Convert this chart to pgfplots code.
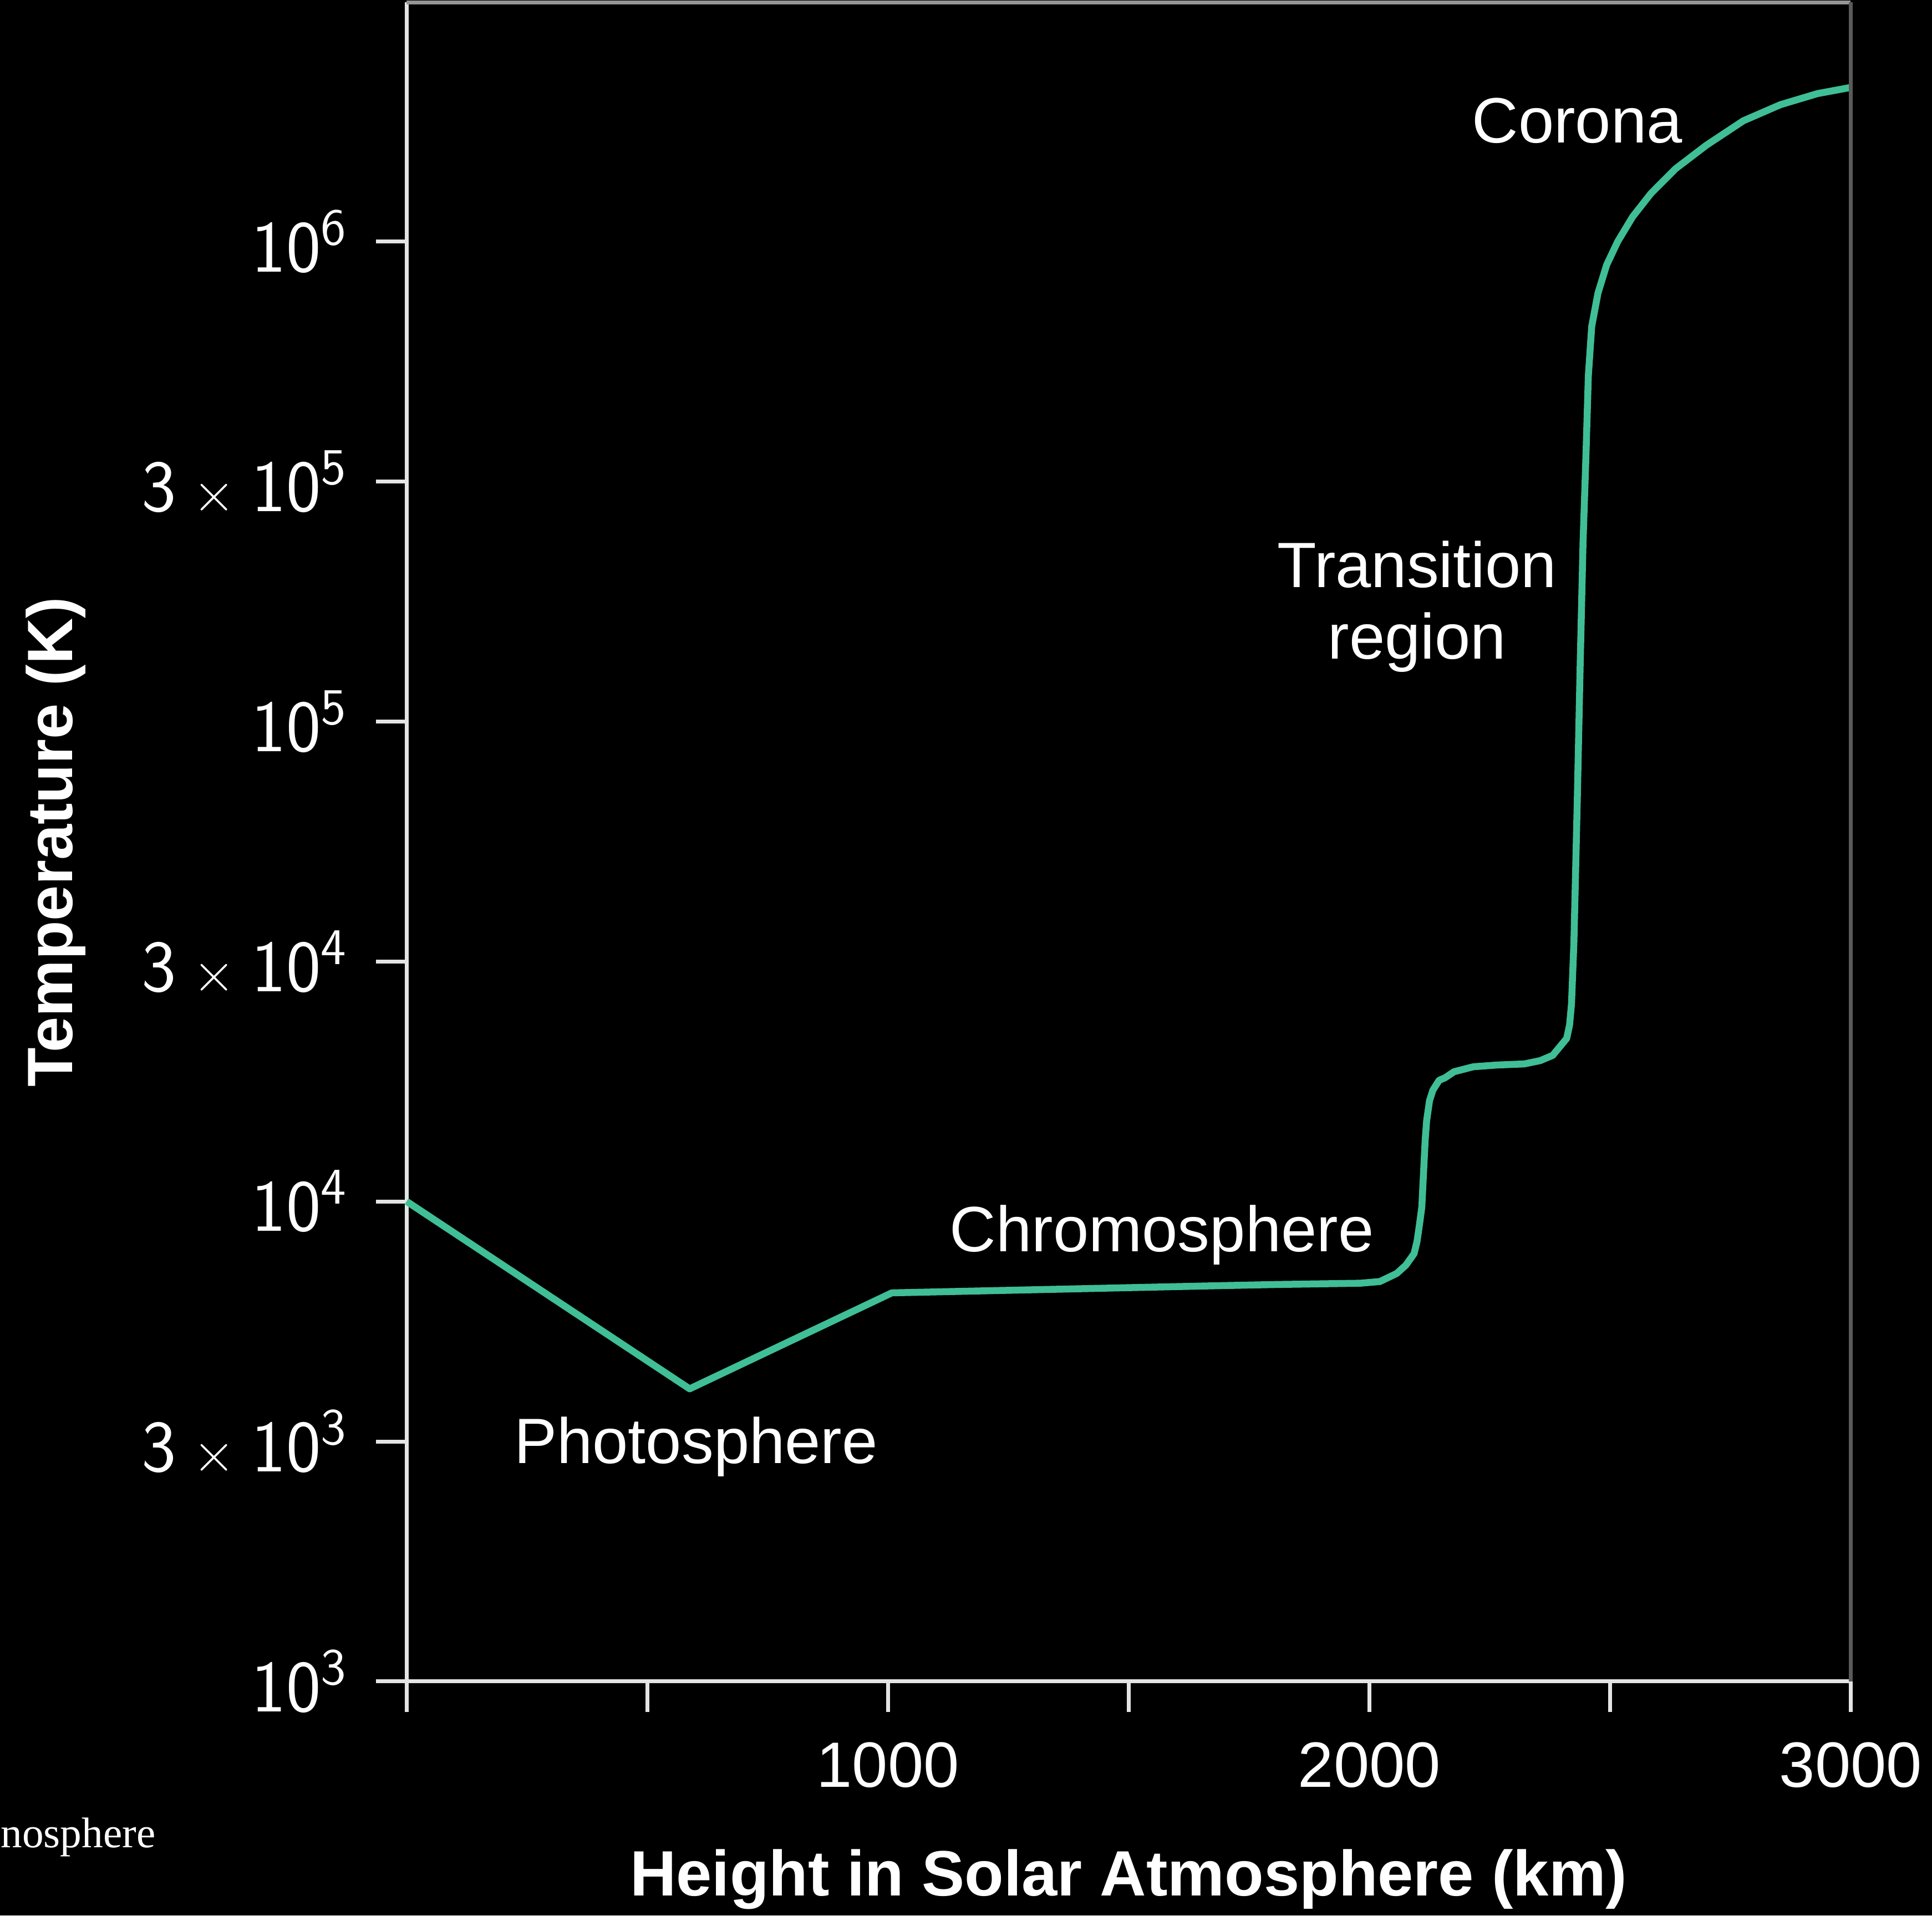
\documentclass[border=0pt]{standalone}
\usepackage{pgfplots}
\pgfplotsset{compat=1.18}
\usepackage{fontspec}
\setmainfont{Liberation Sans}
\newfontfamily\serifcap{Liberation Serif}
\definecolor{curve}{RGB}{64,190,150}
\definecolor{axwhite}{RGB}{228,228,228}
\definecolor{axgray}{RGB}{150,150,150}
\definecolor{axdim}{RGB}{90,90,90}
\newcommand{\tms}{\hspace{0.22em}{\fontsize{13}{15}\selectfont ×}\hspace{0.22em}}
\begin{document}
\begin{tikzpicture}
\fill[black] (0,0) rectangle (15.68,15.55);
\useasboundingbox (0,0) rectangle (15.68,15.55);
\begin{axis}[
  at={(3.30cm,1.90cm)}, anchor=south west,
  scale only axis, width=11.72cm, height=13.63cm,
  xmin=0, xmax=3000, ymin=1000, ymax=3.145e6,
  ymode=log, yminorticks=false, xminorticks=false,
  axis lines=left, axis line style={-, draw=axwhite, line width=0.9pt},
  tick align=outside, major tick length=0.25cm,
  tick style={draw=axwhite, line width=0.9pt},
  xtick={0,500,1000,1500,2000,2500,3000},
  xticklabels={,,1000,,2000,,3000},
  ytick={1000,3162.28,10000,31622.8,100000,316228,1000000},
  yticklabels={
    {10\textsuperscript{3}},
    {3\tms 10\textsuperscript{3}},
    {10\textsuperscript{4}},
    {3\tms 10\textsuperscript{4}},
    {10\textsuperscript{5}},
    {3\tms 10\textsuperscript{5}},
    {10\textsuperscript{6}}},
  xticklabel style={font=\fontsize{14.8}{17}\selectfont, text=white, yshift=-0.12cm},
  yticklabel style={font=\fontsize{17}{20}\selectfont\sffamily, text=white, xshift=-0.10cm},
  xlabel={Height in Solar Atmosphere (km)},
  ylabel={Temperature (K)},
  label style={font=\fontsize{14.8}{17}\selectfont\bfseries, text=white},
  xlabel style={at={(axis description cs:0.5,-0.1277)}, anchor=base},
  ylabel style={at={(axis description cs:-0.243,0.5)}, anchor=center},
  clip=false,
]
\addplot[curve, line width=1.6pt, line join=round] coordinates {
  (0,10000) (588,4070) (1008,6450) (1689,6676) (1805,6713) (1981,6755)
  (2022,6810) (2057,7080) (2076,7368) (2093,7787) (2099,8247) (2104,8922)
  (2109,9727) (2116,13410) (2119,14710) (2125,16210) (2132,17050)
  (2145,17880) (2157,18090) (2176,18630) (2216,19080) (2265,19240)
  (2322,19340) (2355,19650) (2381,20150) (2393,20840) (2410,21850)
  (2416,23320) (2420,25790) (2425,34650) (2432,68300) (2438,130900)
  (2444,236300) (2450,357500) (2455,525000) (2462,665000) (2475,780000)
  (2493,893000) (2516,999000) (2547,1125000) (2585,1258000) (2636,1416000)
  (2700,1585000) (2777,1783000) (2854,1926000) (2931,2031000) (3000,2092000)
};
\draw[axgray, line width=0.9pt] (rel axis cs:0,1) -- (rel axis cs:1,1);
\draw[axdim, line width=0.9pt] (rel axis cs:1,1) -- (rel axis cs:1,0);
\node[anchor=base, text=white, font=\fontsize{14.8}{17}\selectfont] at (axis cs:2432,1.603e6) {Corona};
\node[anchor=base, text=white, font=\fontsize{14.8}{17}\selectfont] at (axis cs:2099,1.900e5) {Transition};
\node[anchor=base, text=white, font=\fontsize{14.8}{17}\selectfont] at (axis cs:2099,1.348e5) {region};
\node[anchor=base, text=white, font=\fontsize{14.8}{17}\selectfont] at (axis cs:1569,7863) {Chromosphere};
\node[anchor=base, text=white, font=\fontsize{14.8}{17}\selectfont] at (axis cs:601,2847) {Photosphere};
\end{axis}
\node[anchor=base west, inner sep=0pt, text=white, font=\serifcap\fontsize{9.9}{12}\selectfont] at (0,0.55) {nosphere};
\end{tikzpicture}
\end{document}
